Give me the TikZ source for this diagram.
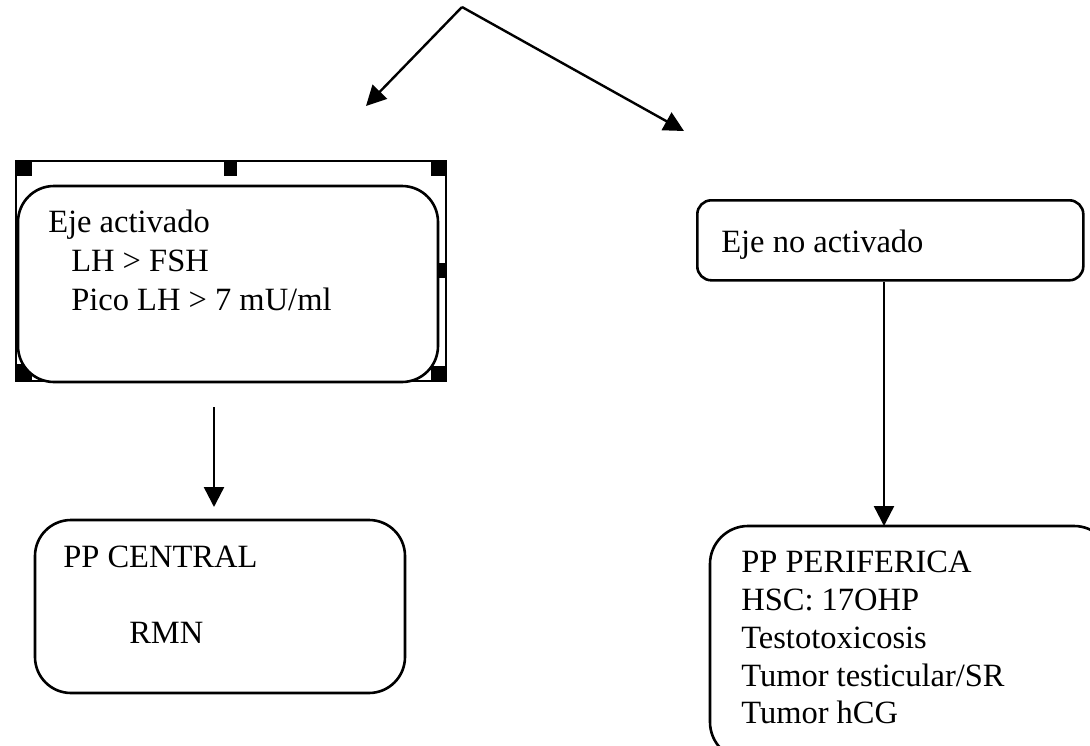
\documentclass[tikz,border=0pt]{standalone}
\usepackage{fontspec}
\setmainfont{Liberation Serif}
\usetikzlibrary{arrows.meta}
\begin{document}
\begin{tikzpicture}[x=1pt,y=-1pt,
  line width=2.6pt,
  arr/.style={-{Triangle[length=20pt,width=20pt]}, line width=2.4pt},
  boxshape/.style={draw, fill=white, line width=2.6pt},
  txt/.style={anchor=base west, inner sep=0pt, font=\fontsize{32.5}{38}\selectfont},
  handle/.style={fill=black, draw=none}]
\useasboundingbox (0,0) rectangle (1090,745);
\clip (0,0) rectangle (1090,745);

% top arrows
\coordinate (apex) at (462,7);
\coordinate (ltip) at (366,106);
\coordinate (rtip) at (684,131);
\draw[arr] (apex) -- (ltip);
\draw[arr] (apex) -- (rtip);

% selection frame around left box
\draw[line width=2.4pt] (16,161) rectangle (446,381);
\fill[handle] (15,160) rectangle (32,176);
\fill[handle] (224,160) rectangle (237,176);
\fill[handle] (431,160) rectangle (447,176);
\fill[handle] (431,263) rectangle (447,278);
\fill[handle] (15,364) rectangle (32,382);
\fill[handle] (431,366) rectangle (447,382);

% left top box
\draw[boxshape, rounded corners=36pt] (18,186) rectangle (438,382);
\node[txt] (t1) at (47,232) {Eje activado};
\node[txt] (t2) at (70,271) {LH > FSH};
\node[txt] (t3) at (70,310) {Pico LH > 7 mU/ml};

% arrow to PP central
\coordinate (la) at (214,407);
\coordinate (lb) at (214,507);
\draw[arr] (la) -- (lb);

% PP central box
\draw[boxshape, rounded corners=36pt] (35,520) rectangle (405,693);
\node[txt] (c1) at (62,567) {PP CENTRAL};
\node[txt] (c2) at (128,643) {RMN};

% Eje no activado box
\node[draw, line width=2.6pt, rounded corners=14pt, minimum width=386pt, minimum height=80pt, inner sep=0pt, anchor=north west] (nobox) at (696,199) {};
\node[txt] (n1) at (720,252) {Eje no activado};

% PP periferica box
\draw[boxshape, rounded corners=38pt] (710,526) rectangle (1112,760);
\coordinate (rb) at (884,526);
\draw[arr] (nobox.south -| rb) -- (rb);
\node[txt] (p1) at (740,572) {PP PERIFERICA};
\node[txt] (p2) at (740,610) {HSC: 17OHP};
\node[txt] (p3) at (740,648) {Testotoxicosis};
\node[txt] (p4) at (740,686) {Tumor testicular/SR};
\node[txt] (p5) at (740,723) {Tumor hCG};
\end{tikzpicture}
\end{document}
